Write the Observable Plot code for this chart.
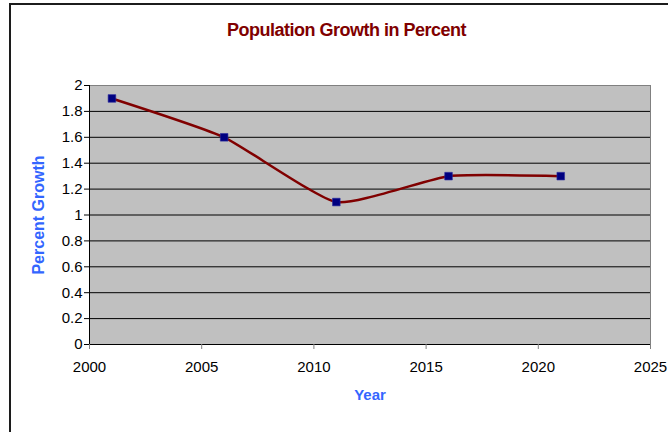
<!DOCTYPE html>
<html>
<head>
<meta charset="utf-8">
<script src="https://cdn.jsdelivr.net/npm/d3@7"></script>
<script src="https://cdn.jsdelivr.net/npm/@observablehq/plot@0.6"></script>
<style>
  html, body { margin: 0; padding: 0; background: #fff; overflow: hidden; width: 668px; height: 432px; }
  #wrap { position: relative; width: 668px; height: 432px; }
  #border { position: absolute; left: 9px; top: 3px; width: 800px; height: 600px; border: 2px solid #1c1c1c; box-sizing: border-box; }
  #title { position: absolute; left: 10px; width: 673px; top: 21px; text-align: center;
           font: bold 18px/18px "Liberation Sans", Arial, sans-serif; letter-spacing: -0.5px; color: #800000; }
  #chart { position: absolute; left: 0; top: 0; }
</style>
</head>
<body>
<div id="wrap">
  <div id="border"></div>
  <div id="chart"></div>
  <div id="title">Population Growth in Percent</div>
</div>
<script>
// Annual population growth, sampled every five years
const years = [2001, 2006, 2011, 2016, 2021];
const growth = [1.9, 1.6, 1.1, 1.3, 1.3];

const xTicks = [2000, 2005, 2010, 2015, 2020, 2025];
const yTicks = [0, 0.2, 0.4, 0.6, 0.8, 1, 1.2, 1.4, 1.6, 1.8, 2];
const yTickLabels = ["0", "0.2", "0.4", "0.6", "0.8", "1", "1.2", "1.4", "1.6", "1.8", "2"];

const data = years.map((year, i) => ({year, value: growth[i]}));
const font = "'Liberation Sans', Arial, sans-serif";
const axisBlue = "#3366FF";

const chart = Plot.plot({
  width: 668,
  height: 432,
  marginLeft: 89,
  marginRight: 18,
  marginTop: 85,
  marginBottom: 88,
  style: {fontFamily: font, background: "transparent"},
  x: {domain: [xTicks[0], xTicks[xTicks.length - 1]]},
  y: {domain: [yTicks[0], yTicks[yTicks.length - 1]]},
  marks: [
    Plot.frame({fill: "#C0C0C0", stroke: "#808080"}),
    // horizontal gridlines
    Plot.ruleY(yTicks.slice(1, -1), {stroke: "#000", strokeWidth: 1}),
    // axis lines
    Plot.ruleX([xTicks[0]], {stroke: "#000"}),
    Plot.ruleY([yTicks[0]], {stroke: "#000"}),
    Plot.axisY({
      ticks: yTicks,
      tickFormat: (d) => yTickLabels[yTicks.indexOf(d)],
      tickSize: 5,
      tickPadding: 2,
      fontSize: 15,
      letterSpacing: -1,
      fill: "#000",
      stroke: "#000",
      label: null
    }),
    Plot.axisX({
      ticks: xTicks,
      tickFormat: d3.format("d"),
      tickSize: 5,
      tickPadding: 12,
      fontSize: 15,
      letterSpacing: -0.8,
      fill: "#000",
      stroke: "#808080",
      label: null
    }),
    Plot.line(data, {
      x: "year",
      y: "value",
      curve: "cardinal",
      tension: 0.5,
      stroke: "#800000",
      strokeWidth: 2.5
    }),
    Plot.dot(data, {
      x: "year",
      y: "value",
      symbol: "square",
      r: 4.3,
      fill: "#000080",
      stroke: "#2a2aa0",
      strokeWidth: 0.6
    }),
    // axis titles
    Plot.text(["Percent Growth"], {
      frameAnchor: "left",
      textAnchor: "middle",
      rotate: -90,
      dx: -51,
      fill: axisBlue,
      fontWeight: "bold",
      fontSize: 16,
      letterSpacing: -0.3
    }),
    Plot.text(["Year"], {
      frameAnchor: "bottom",
      dy: 55,
      fill: axisBlue,
      fontWeight: "bold",
      fontSize: 15
    })
  ]
});

document.getElementById("chart").append(chart);
</script>
</body>
</html>
